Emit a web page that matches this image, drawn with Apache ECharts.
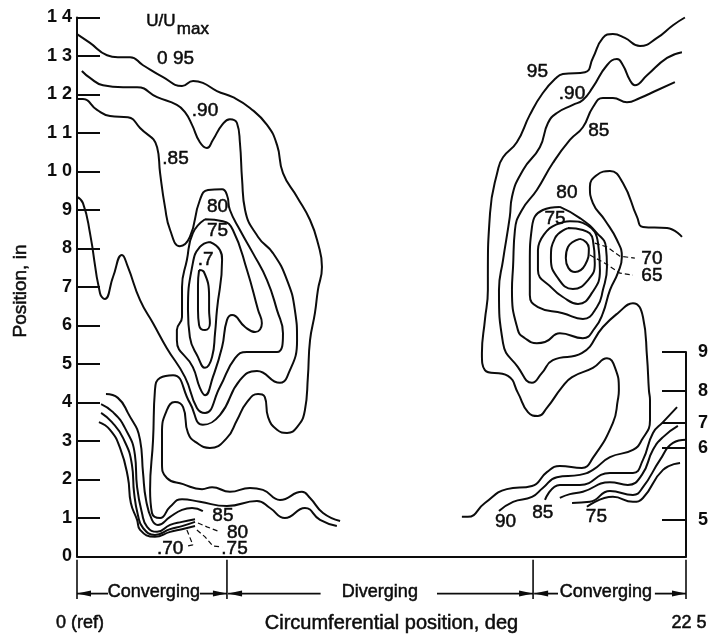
<!DOCTYPE html>
<html>
<head>
<meta charset="utf-8">
<style>html,body{margin:0;padding:0;background:#fff}#c{width:709px;height:639px}</style>
<script src="https://cdn.jsdelivr.net/npm/echarts@6/dist/echarts.min.js"></script>
</head>
<body>
<div id="c"></div>
<script>
// Left scale ticks
const yTickValues = [0,1,2,3,4,5,6,7,8,9,10,11,12,13,14];
const yTickLabels = ['0','1','2','3','4','5','6','7','8','9','1 0','1 1','1 2','1 3','1 4'];
const xTickValues = [0,22.5];
const xTickLabels = ['0 (ref)','22 5'];
// Right-hand scale: position of its ticks, read against the left scale
const rightTickValues = [0.95,2.82,3.47,4.30,5.31];
const rightTickLabels = ['5','6','7','8','9'];
// Sector boundaries, deg
const sectorBounds = [0,5.54,16.85,22.5];

// Contours, [circumferential deg, position in]
const c95Left = [[0,13.57],[0.48,13.34],[1.11,13.02],[1.51,12.97],[1.96,12.97],[2.44,12.76],[3.18,12.45],[3.88,12.22],[4.29,12.35],[4.65,12.30],[5.17,12.09],[5.76,11.93],[6.39,11.65],[7.02,11.21],[7.39,10.69],[7.61,9.96],[8.13,9.34],[8.61,8.74],[8.90,8.14],[9.05,7.52],[8.90,6.92],[8.79,6.32],[8.61,5.62],[8.53,4.66],[8.42,3.80],[8.13,3.36],[7.76,3.21],[7.39,3.29],[7.06,3.62],[6.94,4.14],[6.69,4.22],[6.28,4.01],[5.91,3.54],[5.54,3.08],[4.91,2.82],[4.43,2.95],[4.10,3.21],[3.92,3.88],[3.62,4.01],[3.32,3.80],[3.14,3.21],[3.14,2.43],[3.32,2.04],[3.92,1.88],[4.62,1.75],[4.99,1.80],[5.65,1.68],[6.39,1.78],[6.87,1.73],[7.50,1.47],[8.31,1.68],[8.61,1.52],[9.09,1.13],[9.72,0.92]];
const c90Left = [[0.18,12.61],[0.48,12.43],[0.96,12.24],[1.70,12.19],[2.22,12.19],[2.96,11.93],[3.69,11.73],[3.99,11.54],[4.25,11.21],[4.54,10.76],[4.80,10.61],[5.02,10.82],[5.36,11.21],[5.65,11.36],[5.91,11.26],[6.02,10.74],[6.10,9.78],[6.21,9.0],[6.69,8.30],[7.24,7.88],[7.76,7.18],[8.05,6.40],[8.13,5.62],[7.76,4.66],[7.50,4.51],[6.65,4.82],[6.02,4.58],[5.28,3.67],[4.65,3.42],[4.17,3.99],[3.55,4.71],[3.07,4.64],[2.88,4.32],[2.81,3.03],[2.70,1.73],[2.77,1.13],[3.07,1.0],[3.44,1.29],[3.88,1.49],[4.54,1.42],[5.54,1.31],[6.65,1.44],[7.13,1.26],[7.68,1.0],[8.42,1.26],[8.98,0.95],[9.60,0.79]];
const c85Left = [[0,11.88],[0.22,11.88],[0.74,11.60],[1.22,11.44],[1.88,11.41],[2.33,11.13],[2.96,10.63],[3.07,9.96],[3.25,9.08],[3.44,8.48],[3.80,8.06],[4.17,8.30],[4.54,9.26],[4.84,9.52],[5.36,9.54],[5.54,9.39],[5.65,9.0],[6.02,8.48],[6.50,7.88],[7.02,7.18],[7.39,6.40],[7.61,5.80],[7.39,5.31],[6.28,5.31],[5.84,5.15],[5.28,4.40],[4.73,3.73],[4.43,3.86],[3.99,4.66],[3.32,5.41],[2.81,6.06],[2.33,6.66],[1.88,7.52],[1.66,7.83],[1.33,7.26],[1.03,6.69],[0.85,6.84],[0.48,8.40],[0.22,9.18],[0,9.34]];
const c75Left = [[4.73,8.76],[5.39,8.71],[5.76,8.48],[6.28,7.44],[6.69,6.40],[6.83,6.06],[6.58,5.83],[6.21,5.96],[5.73,6.27],[5.54,6.14],[5.36,5.44],[5.02,4.66],[4.73,4.19],[4.54,4.38],[4.28,4.92],[3.69,5.62],[3.69,5.88],[3.88,6.22],[3.88,6.66],[3.88,7.0],[4.06,7.70],[4.28,8.40],[4.73,8.76]];
const c70Left = [[4.91,8.17],[5.28,7.96],[5.36,7.70],[5.17,6.40],[5.10,5.80],[4.99,5.18],[4.73,4.90],[4.47,5.18],[4.17,5.70],[4.10,6.40],[4.28,7.62],[4.54,8.04],[4.91,8.17]];
const c65Left = [[4.51,7.44],[4.69,7.39],[4.88,6.74],[4.88,6.40],[4.91,6.06],[4.73,5.88],[4.51,6.01],[4.47,6.40],[4.47,7.05],[4.51,7.44]];
const c85Low = [[1.07,4.22],[1.51,4.12],[1.88,3.73],[2.33,3.03],[2.44,2.17],[2.55,1.47],[2.77,0.95],[2.99,0.82],[3.44,1.03],[3.88,1.21],[4.25,1.26],[4.65,1.18]];
const c80Low = [[0.89,3.96],[1.33,3.75],[1.77,3.34],[2.14,2.64],[2.22,1.80],[2.40,1.13],[2.59,0.77],[2.96,0.64],[3.44,0.82],[3.88,0.90],[4.36,0.97]];
const c75Low = [[0.89,3.73],[1.29,3.49],[1.70,3.08],[2.03,2.38],[2.11,1.65],[2.25,1.08],[2.44,0.74],[2.88,0.56],[3.44,0.71],[3.88,0.79],[4.36,0.90]];
const c70Low = [[0.81,3.49],[1.22,3.29],[1.59,2.82],[1.88,2.06],[1.99,1.39],[2.22,0.95],[2.33,0.69],[2.88,0.51],[3.44,0.64],[3.88,0.71],[4.36,0.79]];
const c95Right = [[14.22,1.03],[14.44,1.03],[15.07,1.39],[15.88,1.75],[16.81,1.83],[17.36,2.19],[17.84,2.35],[18.65,2.30],[19.06,2.56],[19.80,3.47],[19.98,4.06],[20.02,4.32],[19.87,4.92],[19.58,5.15],[19.06,4.90],[18.29,4.66],[17.92,4.40],[17.36,3.86],[17.03,3.65],[16.66,3.75],[16.29,4.25],[15.92,4.69],[15.07,4.84],[14.96,5.28],[15.07,6.14],[15.18,6.92],[15.18,7.26],[15.26,8.92],[15.55,10.04],[15.74,10.37],[16.25,10.76],[16.73,11.47],[17.21,12.04],[17.73,12.45],[17.95,12.53],[18.77,12.58],[19.06,12.95],[19.43,13.47],[19.80,13.57],[20.24,13.47],[20.80,13.26],[21.43,13.47],[22.02,13.80],[22.46,14.0]];
const c90Right = [[15.59,1.18],[16.11,1.42],[16.81,1.55],[17.21,1.78],[17.73,2.06],[18.58,2.12],[19.06,2.25],[19.69,2.58],[20.54,2.77],[20.87,3.03],[21.17,3.54],[21.17,4.06],[21.13,4.32],[21.06,5.18],[20.91,6.22],[20.54,6.58],[19.98,6.32],[19.43,5.96],[18.65,5.28],[17.58,5.10],[17.18,4.77],[16.81,4.51],[16.29,4.92],[15.74,5.54],[15.59,6.92],[15.74,7.70],[15.99,8.82],[16.07,9.34],[16.48,10.04],[17.10,10.63],[17.40,11.26],[17.73,11.52],[18.32,11.73],[18.69,11.86],[19.06,12.19],[19.58,12.76],[19.95,12.92],[20.17,12.76],[20.43,12.37],[20.61,12.24],[21.06,12.50],[21.80,12.95],[22.35,13.10]];
const c85Right = [[22.09,12.32],[21.43,12.11],[20.80,11.91],[20.32,11.80],[19.80,11.91],[19.43,11.91],[19.06,11.67],[18.69,11.15],[18.21,10.82],[17.58,10.22],[16.99,9.52],[16.44,9.0],[16.18,8.48],[16.11,7.52],[16.07,6.92],[16.29,5.88],[16.55,5.67],[16.99,5.54],[17.29,5.57],[17.84,5.80],[18.69,5.67],[19.13,5.93],[19.43,6.32],[19.69,6.92],[19.98,7.36],[20.13,7.78],[19.95,8.22],[19.50,8.74],[19.06,9.18],[18.95,9.60],[19.21,9.91],[19.69,10.01],[20.17,9.70],[20.69,8.82],[20.91,8.56],[21.80,8.53],[22.35,8.30]];
const c80Right = [[17.84,9.08],[17.21,9.0],[16.81,8.56],[16.73,7.62],[16.73,6.79],[17.03,6.48],[17.95,6.32],[18.69,6.17],[19.21,6.48],[19.43,6.92],[19.58,7.52],[19.54,8.04],[19.21,8.40],[18.58,8.79],[17.84,9.08]];
const c75Right = [[17.47,8.53],[17.03,7.96],[17.03,7.44],[17.55,6.97],[17.95,6.74],[18.51,6.56],[19.02,6.84],[19.32,7.44],[19.25,8.14],[18.84,8.61],[18.21,8.71],[17.47,8.53]];
const c70Right = [[18.14,8.53],[17.66,8.27],[17.51,7.75],[17.77,7.23],[18.32,6.95],[18.88,7.18],[19.13,7.62],[19.06,8.22],[18.69,8.48],[18.14,8.53]];
const c65Right = [[18.58,8.25],[18.14,8.04],[18.06,7.75],[18.40,7.39],[18.77,7.57],[18.91,8.01],[18.80,8.17],[18.58,8.25]];
const c85LowR = [[17.29,1.47],[17.84,1.86],[18.58,1.86],[19.69,2.17],[20.54,2.17],[20.91,2.51],[21.28,3.21],[21.65,3.49],[22.17,3.88]];
const c80LowR = [[17.84,1.52],[18.21,1.62],[18.69,1.68],[19.69,1.93],[20.35,1.86],[20.87,2.12],[21.28,2.77],[21.65,3.10],[22.20,3.39]];
const c75LowR = [[18.29,1.39],[18.95,1.42],[19.69,1.70],[20.54,1.60],[20.91,1.80],[21.54,2.51],[22.02,2.95],[22.50,3.03]];
const c70LowR = [[18.84,1.29],[19.80,1.55],[20.54,1.42],[20.91,1.52],[21.65,2.25],[22.28,2.43]];

// Dashed leaders from contours to their labels
const lead80 = [[4.47,0.87],[4.80,0.77],[5.28,0.64]];
const lead75 = [[4.43,0.69],[4.73,0.51],[5.02,0.27],[5.36,0.25]];
const lead70 = [[4.06,0.69],[4.28,0.30],[4.06,0.27]];
const lead70R = [[19.13,8.14],[19.58,8.04],[20.06,7.80],[20.61,7.75]];
const lead65R = [[18.95,7.83],[19.50,7.62],[20.06,7.36],[20.54,7.31]];

// Contour labels [deg, in, text]
const contourLabels = [[3.64,12.92,'0 95'],[4.73,11.57,'.90'],[3.64,10.32,'.85'],[5.19,9.08,'80'],[5.19,8.45,'75'],[4.75,7.70,'.7'],[5.39,1.05,'85'],[5.93,0.61,'80'],[5.82,0.19,'.75'],[3.44,0.19,'.70'],[17.01,12.58,'95'],[18.29,12.01,'.90'],[19.28,11.05,'85'],[18.10,9.44,'80'],[17.66,8.77,'75'],[21.24,7.73,'70'],[21.24,7.29,'65'],[15.83,0.90,'90'],[17.21,1.13,'85'],[19.19,1.03,'75']];
const headerLabels = [[3.10,13.91,'U/U'],[4.28,13.70,'max']];
const sectorLabels = [[2.84,'Converging'],[11.19,'Diverging'],[19.54,'Converging']];
// Arrows: [tail deg, tip deg]
const sectorArrows = [[1.15,0],[4.54,5.54],[9.0,5.58],[13.30,16.85],[17.77,16.89],[21.35,22.5]];

const INK = '#0c0c0c';
const TEXT_FONT = '"Liberation Sans",sans-serif';
const heavy = {color:INK,textBorderColor:INK,textBorderWidth:0.5,fontFamily:TEXT_FONT};
const hiddenMark = {color:'transparent',opacity:1};

const contours = {c95Left,c90Left,c85Left,c75Left,c70Left,c65Left,c85Low,c80Low,c75Low,c70Low,c95Right,c90Right,c85Right,c80Right,c75Right,c70Right,c65Right,c85LowR,c80LowR,c75LowR,c70LowR};
const leaders = {lead80,lead75,lead70,lead70R,lead65R};

const series = [];
for (const k in contours) series.push({name:k,type:'line',data:contours[k],smooth:0.5,showSymbol:false,symbol:'none',clip:false,silent:true,lineStyle:{color:INK,width:2},xAxisIndex:0,yAxisIndex:0});
for (const k in leaders) series.push({name:k,type:'line',data:leaders[k],showSymbol:false,symbol:'none',clip:false,silent:true,lineStyle:{color:INK,width:1.2,type:[5,3]},xAxisIndex:0,yAxisIndex:0});
series.push({name:'contourLabels',type:'scatter',data:contourLabels,symbolSize:1,itemStyle:hiddenMark,silent:true,clip:false,xAxisIndex:0,yAxisIndex:0,
  label:Object.assign({show:true,position:'inside',formatter:p=>p.data[2],fontSize:19},heavy)});
series.push({name:'headerLabels',type:'scatter',data:headerLabels,symbolSize:1,itemStyle:hiddenMark,silent:true,clip:false,xAxisIndex:0,yAxisIndex:0,
  label:Object.assign({show:true,position:'inside',formatter:p=>p.data[2],fontSize:17},heavy)});

// Sector band below the plot
const ARROW_Y = -0.95;
sectorBounds.forEach((x,i)=>series.push({name:'bound'+i,type:'line',data:[[x,-0.07],[x,-1.09]],showSymbol:false,symbol:'none',clip:false,silent:true,lineStyle:{color:INK,width:1.6},xAxisIndex:2,yAxisIndex:2}));
sectorArrows.forEach((a,i)=>{
  const right = a[1]>a[0];
  series.push({name:'arrow'+i,type:'line',clip:false,silent:true,showSymbol:true,showAllSymbol:true,lineStyle:{color:INK,width:1.8},itemStyle:{color:INK},xAxisIndex:2,yAxisIndex:2,
    data:[{value:[a[0],ARROW_Y],symbol:'none'},{value:[a[1],ARROW_Y],symbol:'triangle',symbolSize:[6,14],symbolRotate:right?-90:90,symbolOffset:[right?-7:7,0]}]});
});
series.push({name:'sectorLabels',type:'scatter',data:sectorLabels.map(s=>[s[0],-0.92,s[1]]),symbolSize:1,itemStyle:hiddenMark,silent:true,clip:false,xAxisIndex:2,yAxisIndex:2,
  label:Object.assign({show:true,position:'inside',formatter:p=>p.data[2],fontSize:18},heavy)});

const chart = echarts.init(document.getElementById('c'),null,{renderer:'canvas'});
chart.setOption({
  animation:false,
  backgroundColor:'#fff',
  grid:[
    {left:77,right:23,top:17.5,bottom:82.5,outerBoundsMode:'none'},
    {left:662,right:23,top:352.1,bottom:82.5,outerBoundsMode:'none'},
    {left:77,right:23,top:557,height:42,outerBoundsMode:'none'}
  ],
  xAxis:[
    {gridIndex:0,type:'value',min:0,max:22.5,splitLine:{show:false},axisTick:{show:false},
      axisLine:{show:true,lineStyle:{color:INK,width:2}},
      axisLabel:Object.assign({customValues:xTickValues,formatter:v=>xTickLabels[xTickValues.indexOf(v)],margin:58,fontSize:18,padding:[0,0,0,6]},heavy),
      name:'Circumferential position, deg',nameLocation:'middle',nameGap:57,nameMoveOverlap:false,nameTextStyle:Object.assign({fontSize:20,padding:[0,0,0,20]},heavy)},
    {gridIndex:1,type:'value',min:0,max:1,show:false},
    {gridIndex:2,type:'value',min:0,max:22.5,show:false}
  ],
  yAxis:[
    {gridIndex:0,type:'value',min:0,max:14,interval:1,splitLine:{show:false},
      axisLine:{show:true,onZero:false,lineStyle:{color:INK,width:2}},
      axisTick:{show:true,inside:true,length:23,lineStyle:{color:INK,width:2}},
      axisLabel:{formatter:v=>yTickLabels[yTickValues.indexOf(v)],margin:5,fontFamily:TEXT_FONT,fontWeight:'bold',fontSize:18,color:INK},
      name:'Position, in',nameLocation:'middle',nameGap:47,nameTextStyle:Object.assign({fontSize:19,padding:[0,8,0,0]},heavy)},
    {gridIndex:1,type:'value',position:'right',min:0,max:5.31,splitLine:{show:false},
      axisLine:{show:true,onZero:false,lineStyle:{color:INK,width:2}},
      axisTick:{show:true,inside:true,length:24,customValues:rightTickValues,lineStyle:{color:INK,width:2}},
      axisLabel:{customValues:rightTickValues,formatter:v=>rightTickLabels[rightTickValues.indexOf(v)],margin:12,fontFamily:TEXT_FONT,fontWeight:'bold',fontSize:18,color:INK}},
    {gridIndex:2,type:'value',min:-1.09,max:0,show:false}
  ],
  series
});
</script>
</body>
</html>
